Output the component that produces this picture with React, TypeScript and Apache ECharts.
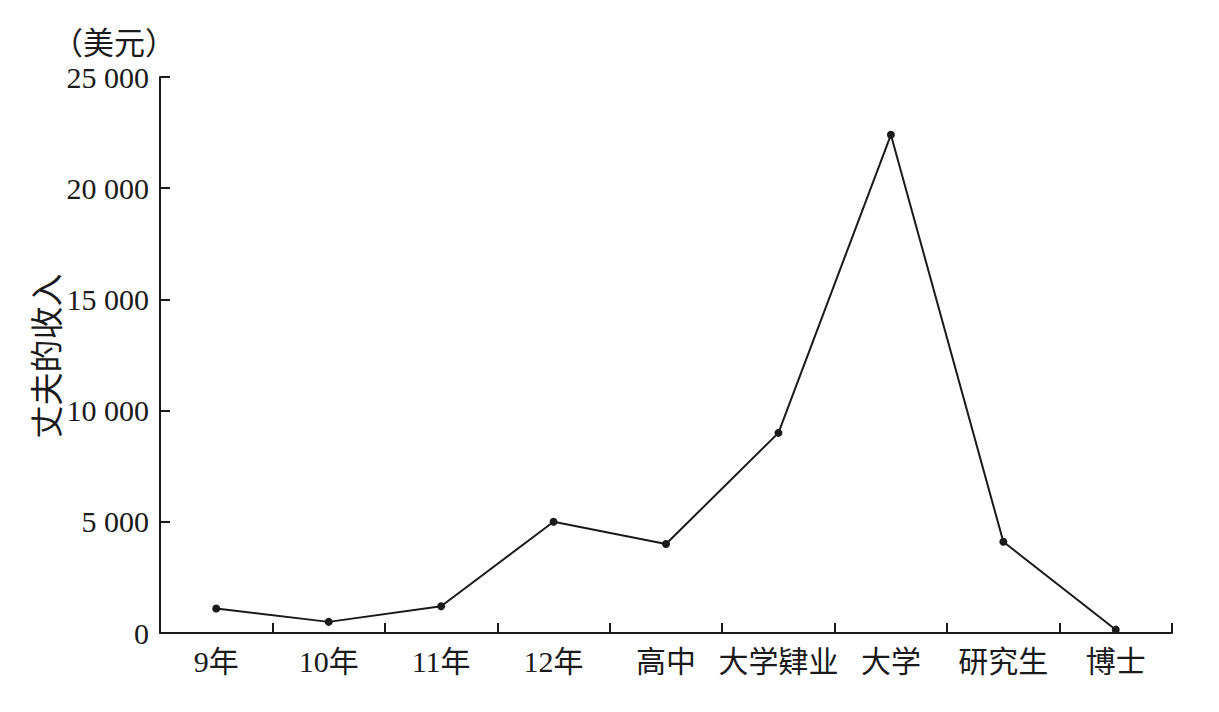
import React, { useEffect, useRef } from "react";
import * as echarts from "echarts";

const categories = ["9年", "10年", "11年", "12年", "高中", "大学肄业", "大学", "研究生", "博士"];
const income = [1100, 500, 1200, 5000, 4000, 9000, 22400, 4100, 150];
const yTicks = [0, 5000, 10000, 15000, 20000, 25000];
const yAxisName = "丈夫的收入";
const unitLabel = "（美元）";

const FONT = "'Liberation Serif', 'Noto Sans CJK SC', serif";

function fmt(v: number): string {
  if (v < 1000) return String(v);
  const th = Math.floor(v / 1000);
  const rest = String(v % 1000).padStart(3, "0");
  return `${th} ${rest}`;
}

export default function App() {
  const ref = useRef<HTMLDivElement>(null);
  useEffect(() => {
    if (!ref.current) return;
    const chart = echarts.init(ref.current, undefined, { renderer: "svg" });
    chart.setOption({
      animation: false,
      backgroundColor: "#ffffff",
      grid: { left: 152, right: 39, top: 69, bottom: 71, containLabel: false },
      xAxis: {
        type: "category",
        data: categories,
        boundaryGap: true,
        axisLine: { show: true, lineStyle: { color: "#1a1a1a", width: 2 } },
        axisTick: { show: true, inside: true, interval: 0, length: 10, lineStyle: { color: "#1a1a1a", width: 2 } },
        axisLabel: { color: "#1a1a1a", fontFamily: FONT, fontSize: 30, margin: 13, interval: 0 },
        splitLine: { show: false },
      },
      yAxis: {
        type: "value",
        min: 0,
        max: yTicks[yTicks.length - 1],
        interval: yTicks[1] - yTicks[0],
        axisLine: { show: true, lineStyle: { color: "#1a1a1a", width: 2 } },
        axisTick: { show: true, inside: true, length: 10, lineStyle: { color: "#1a1a1a", width: 2 } },
        axisLabel: { color: "#1a1a1a", fontFamily: FONT, fontSize: 30, margin: 11, formatter: (v: number) => fmt(v) },
        splitLine: { show: false },
      },
      graphic: [
        {
          type: "text",
          left: 44,
          top: 20,
          style: { text: unitLabel, font: `31px ${FONT}`, fill: "#1a1a1a" },
        },
        {
          type: "text",
          x: 40,
          y: 348,
          rotation: Math.PI / 2,
          style: {
            text: yAxisName,
            font: `33px ${FONT}`,
            fill: "#1a1a1a",
            align: "center",
            verticalAlign: "middle",
          },
        },
      ],
      series: [
        {
          type: "line",
          data: income,
          symbol: "circle",
          symbolSize: 8,
          itemStyle: { color: "#1a1a1a" },
          lineStyle: { color: "#1a1a1a", width: 2 },
        },
      ],
    });
    return () => chart.dispose();
  }, []);
  return <div ref={ref} style={{ width: 1203, height: 696 }} />;
}
